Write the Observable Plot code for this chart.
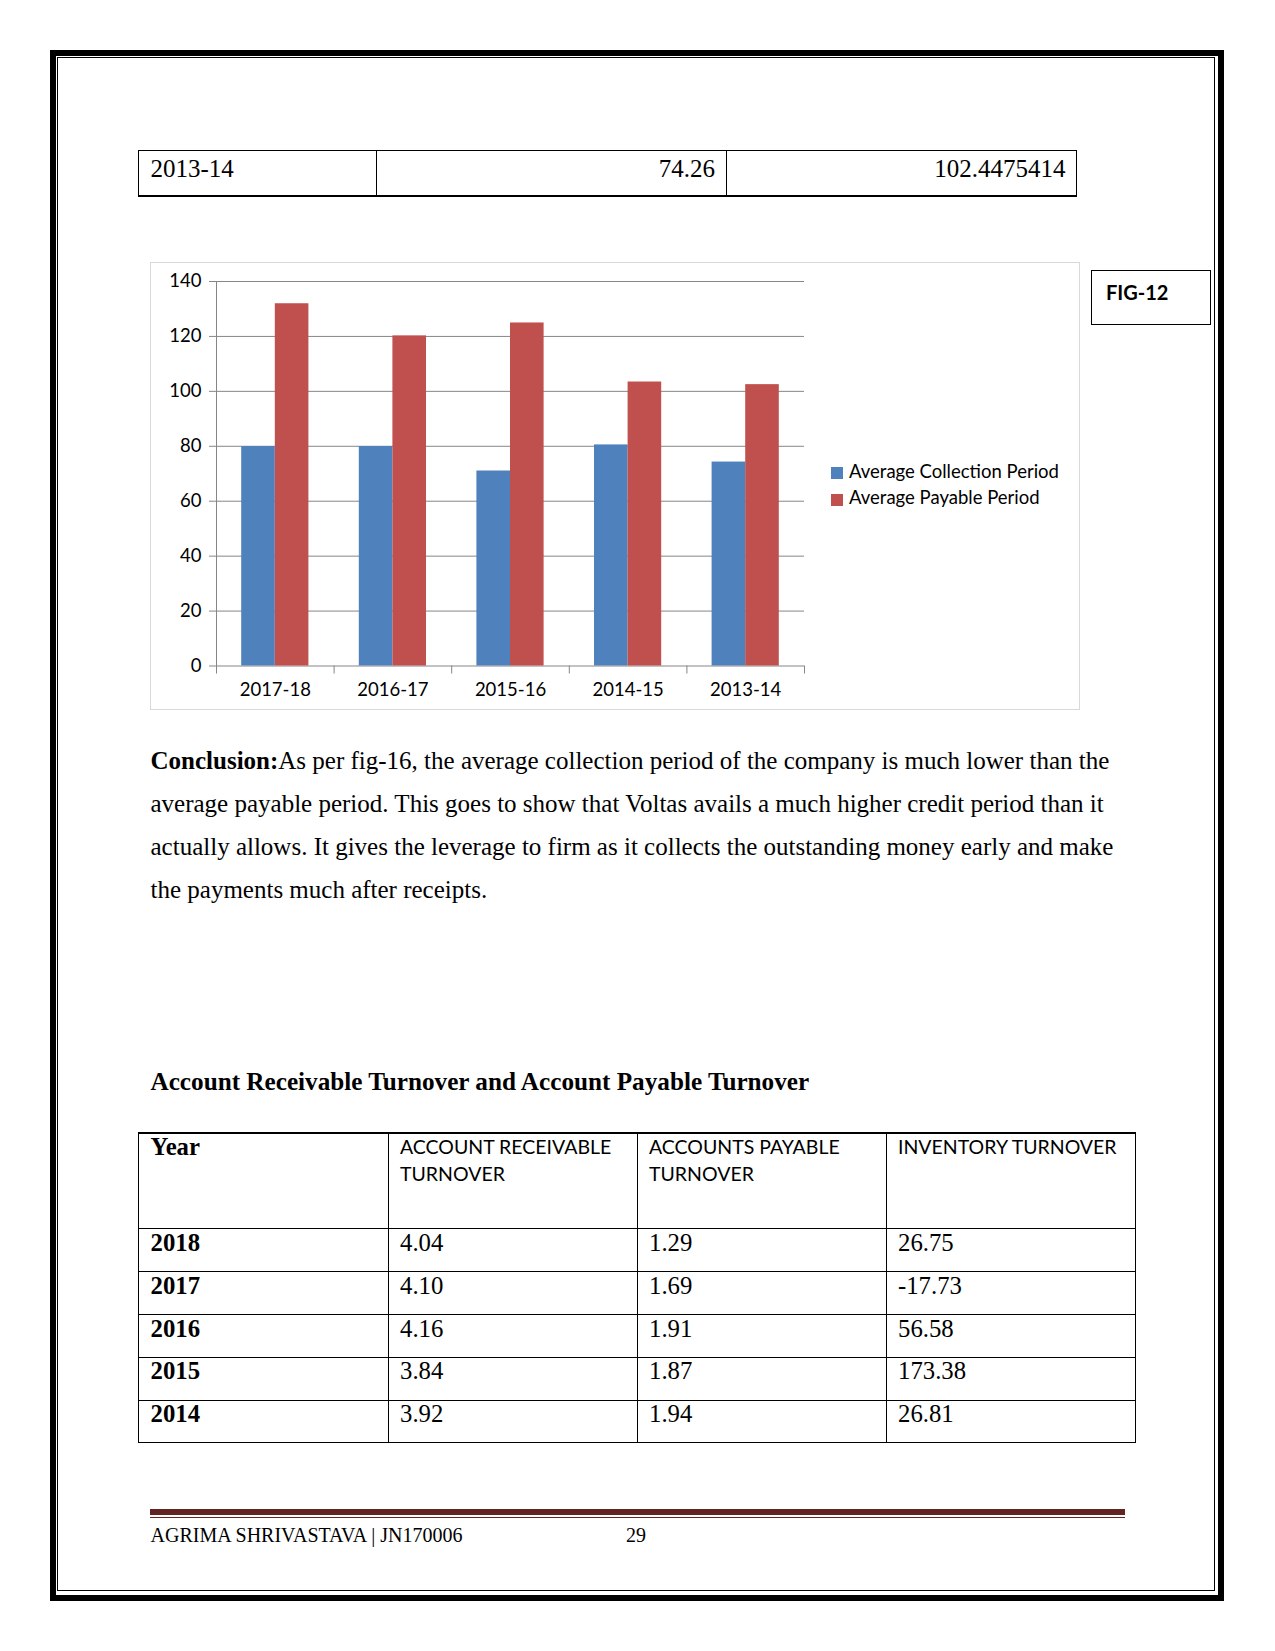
<!DOCTYPE html>
<html><head><meta charset="utf-8">
<script src="https://cdn.jsdelivr.net/npm/d3@7"></script>
<script src="https://cdn.jsdelivr.net/npm/@observablehq/plot@0.6"></script>
<style>
html,body{margin:0;padding:0;background:#fff;}
#page{position:relative;width:1275px;height:1651px;overflow:hidden;background:#fff;}
.abs{position:absolute;box-sizing:border-box;}
.t{position:absolute;white-space:pre;line-height:1;color:#000;}
.serif{font-family:"Liberation Serif","Times New Roman",serif;}
.sans{font-family:Lato,"Noto Sans",sans-serif;}
</style></head><body><div id="page"></div>
<script>
// ---- chart data ----
const categories = ["2017-18","2016-17","2015-16","2014-15","2013-14"];
const seriesNames = ["Average Collection Period","Average Payable Period"];
const collectionPeriod = [79.9, 79.9, 71.0, 80.5, 74.26];
const payablePeriod = [131.9, 120.2, 124.9, 103.4, 102.4475414];
const yTicks = [0,20,40,60,80,100,120,140];
const seriesColors = ["#4F81BD","#C0504D"];
const figLabel = "FIG-12";

// ---- page text / tables ----
const topRow = ["2013-14","74.26","102.4475414"];
const conclusionLead = "Conclusion:";
const conclusionLines = [
  "As per fig-16, the average collection period of the company is much lower than the",
  "average payable period. This goes to show that Voltas avails a much higher credit period than it",
  "actually allows. It gives the leverage to firm as it collects the outstanding money early and make",
  "the payments much after receipts."
];
const tableTitle = "Account Receivable Turnover and Account Payable Turnover";
const tableHeaders = ["Year",["ACCOUNT RECEIVABLE","TURNOVER"],["ACCOUNTS PAYABLE","TURNOVER"],["INVENTORY TURNOVER"]];
const tableYears = ["2018","2017","2016","2015","2014"];
const receivableTurnover = ["4.04","4.10","4.16","3.84","3.92"];
const payableTurnover = ["1.29","1.69","1.91","1.87","1.94"];
const inventoryTurnover = ["26.75","-17.73","56.58","173.38","26.81"];
const footerLeft = "AGRIMA SHRIVASTAVA | JN170006";
const footerPage = "29";

const page = document.getElementById("page");
function box(l,t,w,h,style){
  const d=document.createElement("div"); d.className="abs";
  Object.assign(d.style,{left:l+"px",top:t+"px",width:w+"px",height:h+"px"},style||{});
  page.appendChild(d); return d;
}
function text(x, base, str, o={}){
  const size=o.size||25, fam=o.family||"serif";
  const d=document.createElement("div");
  d.className="t "+fam;
  d.style.fontSize=size+"px";
  if(o.weight) d.style.fontWeight=o.weight;
  const off = fam==="serif" ? 0.8375 : 0.887;
  d.style.top=(base-off*size)+"px";
  if(o.anchor==="end") d.style.right=(1275-x)+"px"; else d.style.left=x+"px";
  if(o.lead){ const b=document.createElement("b"); b.textContent=o.lead; d.appendChild(b); }
  d.appendChild(document.createTextNode(str));
  page.appendChild(d); return d;
}

// page borders
box(50,50,1174,1551,{border:"6px solid #000"});
box(57,57,1158,1534,{border:"1px solid #000"});

// top table row
box(138,150,939,47,{border:"1px solid #000",borderBottom:"2px solid #000"});
box(376,150,1,47,{background:"#000"});
box(726,150,1,47,{background:"#000"});
text(150.5,177,topRow[0]);
text(715,177,topRow[1],{anchor:"end"});
text(1065.5,177,topRow[2],{anchor:"end"});

// chart
box(150,262,930,448,{border:"1px solid #d9d9d9"});
const W=930,H=448,mL=66,mR=276,mT=19,mB=44.5;
const step=(W-mL-mR)/categories.length;
const gap=1.5, barW=step/(2+gap);
const data=categories.flatMap((c,i)=>[
  {cat:c,series:seriesNames[0],value:collectionPeriod[i]},
  {cat:c,series:seriesNames[1],value:payablePeriod[i]}
]);
const grid="#868686";
const chart=Plot.plot({
  width:W,height:H,marginLeft:mL,marginRight:mR,marginTop:mT,marginBottom:mB,
  style:{fontFamily:"Lato, sans-serif",fontSize:"18.5px",color:"#000",background:"transparent",overflow:"visible"},
  x:{domain:categories,type:"band",paddingInner:gap/(2+gap),paddingOuter:gap/(2+gap)/2,round:false},
  y:{domain:[0,140]},
  color:{domain:seriesNames,range:seriesColors},
  marks:[
    Plot.ruleY(yTicks,{y:d=>d,stroke:grid,strokeWidth:1,insetLeft:-7}),
    Plot.barY(data.filter(d=>d.series===seriesNames[0]),{x:"cat",y:"value",fill:"series",insetRight:barW}),
    Plot.barY(data.filter(d=>d.series===seriesNames[1]),{x:"cat",y:"value",fill:"series",insetLeft:barW}),
    Plot.ruleX([categories[0]],{x:d=>d,dx:-step/2,stroke:grid,insetBottom:-8}),
    Plot.ruleX(categories,{x:d=>d,dx:step/2,y1:0,y2:0,stroke:grid,insetBottom:-8}),
    Plot.axisY({ticks:yTicks,tickSize:0,tickPadding:15,fontSize:18.5,label:null}),
    Plot.axisX({tickSize:0,tickPadding:16.4,fontSize:18.5,label:null})
  ]
});
const holder=document.createElement("div");
holder.className="abs";
Object.assign(holder.style,{left:"150px",top:"262px"});
holder.appendChild(chart);
page.appendChild(holder);

// legend
seriesNames.forEach((s,i)=>{
  box(831,467+26.5*i,12,12,{background:seriesColors[i]});
  text(849,478+26.5*i,s,{family:"sans",size:18.5});
});

// fig label
box(1091,270,120,55,{border:"1px solid #000"});
text(1106,299.5,figLabel,{family:"sans",size:20,weight:"bold"});

// conclusion paragraph
conclusionLines.forEach((l,i)=>{
  text(150.5,769+43*i,l,i===0?{lead:conclusionLead}:{});
});

// heading
text(150.5,1090,tableTitle,{weight:"bold",size:25.2});

// bottom table
const colX=[138,388,637,886,1136];
const rowY=[1132,1228,1271,1314,1357,1400,1443];
box(138,1132,998,311,{border:"1px solid #000",borderTop:"2px solid #000"});
rowY.slice(1,-1).forEach(y=>box(138,y,998,1,{background:"#000"}));
colX.slice(1,-1).forEach(x=>box(x,1132,1,311,{background:"#000"}));
text(150.5,1156,tableHeaders[0],{size:24.75,weight:"bold"});
tableHeaders.slice(1).forEach((h,j)=>{
  h.forEach((line,k)=>text(colX[j+1]+12,1154+27.5*k,line,{family:"sans",size:19.5}));
});
tableYears.forEach((yr,i)=>{
  const b=1252+42.7*i;
  text(150.5,b,yr,{size:24.75,weight:"bold"});
  text(400,b,receivableTurnover[i],{size:24.75});
  text(649,b,payableTurnover[i],{size:24.75});
  text(898,b,inventoryTurnover[i],{size:24.75});
});

// footer
box(150,1509,975,6,{background:"#622423"});
box(150,1516.5,975,1.2,{background:"#622423"});
text(150.5,1541.5,footerLeft,{size:20});
text(626,1541.5,footerPage,{size:20});
</script></body></html>
